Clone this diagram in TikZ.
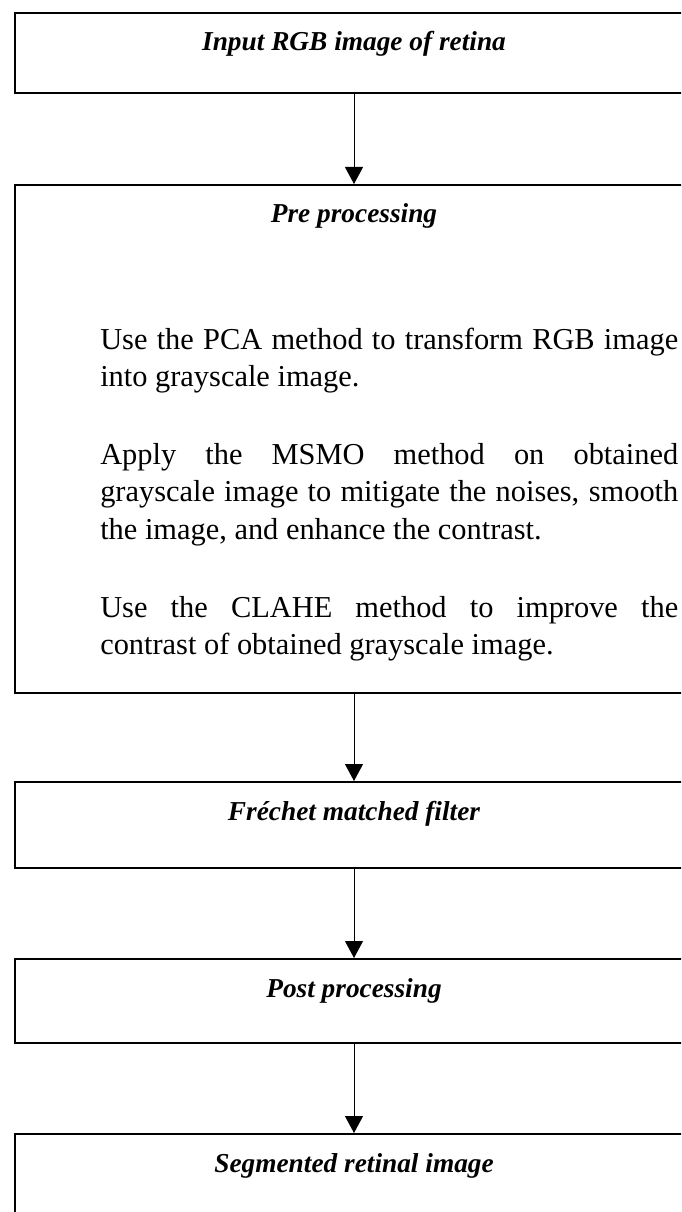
\documentclass[tikz,border=0pt]{standalone}
\usepackage{fontspec}
\setmainfont{Liberation Serif}
\usetikzlibrary{arrows.meta, calc, positioning}

\begin{document}
\begin{tikzpicture}[
    stage/.style={draw, line width=1.5pt, minimum width=508.5pt, inner sep=0pt,
                  text height=28.5pt, anchor=north,
                  font=\fontsize{20.5pt}{24pt}\selectfont\bfseries\itshape},
    body/.style={anchor=base west, inner sep=0pt, text width=433.5pt, align=justify,
                 font=\fontsize{22.8pt}{28.1pt}\selectfont},
    arr/.style={-{Triangle[width=13.5pt, length=12.75pt]}, line width=0.75pt},
    node distance=66.75pt
  ]
  \path[use as bounding box, fill=white] (0,0) rectangle (510.75pt,-909pt);
  \clip (0,0) rectangle (510.75pt,-909pt);

  \node[stage, text depth=31.5pt] (inp) at (265.5pt,-9pt) {Input RGB image of retina};
  \node[stage, text depth=352.5pt, below=67.5pt of inp] (pre) {Pre processing};
  \node[stage, text depth=36pt, below=65.25pt of pre] (frechet) {Fréchet matched filter};
  \node[stage, text depth=34.5pt, below=of frechet] (post) {Post processing};
  \node[stage, text depth=46.5pt, below=of post] (seg) {Segmented retinal image};

  % steps of the pre processing
  \node[body] (steps) at ($(pre.north west)+(64.5pt,-123.75pt)$) {%
    \setlength{\parskip}{30.4pt}\hyphenpenalty=10000
    Use the PCA method to transform RGB image\linebreak into grayscale image.\par
    Apply the MSMO method on obtained\linebreak grayscale image to mitigate the noises, smooth\linebreak the image, and enhance the contrast.\par
    Use the CLAHE method to improve the\linebreak contrast of obtained grayscale image.};

  \draw[arr] (inp) -- (pre);
  \draw[arr] (pre) -- (frechet);
  \draw[arr] (frechet) -- (post);
  \draw[arr] (post) -- (seg);
\end{tikzpicture}
\end{document}
